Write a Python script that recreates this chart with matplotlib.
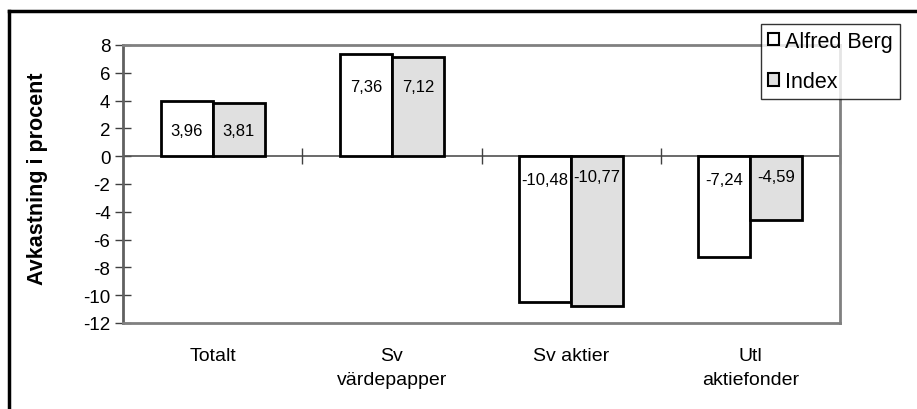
import matplotlib
matplotlib.use("Agg")
import matplotlib.pyplot as plt
from matplotlib.lines import Line2D
from matplotlib.patches import Patch
import numpy as np

plt.rcParams['font.family'] = ['Liberation Sans', 'DejaVu Sans']

categories = ["Totalt", "Sv\nvärdepapper", "Sv aktier", "Utl\naktiefonder"]
alfred_berg = [3.96, 7.36, -10.48, -7.24]
index_vals = [3.81, 7.12, -10.77, -4.59]
alfred_labels = ["3,96", "7,36", "-10,48", "-7,24"]
index_labels = ["3,81", "7,12", "-10,77", "-4,59"]
series_names = ["Alfred Berg", "Index"]
y_ticks = [8, 6, 4, 2, 0, -2, -4, -6, -8, -10, -12]

# label vertical placement (layout)
label_y_alfred = [1.85, 5.0, -1.65, -1.7]
label_y_index = [1.85, 5.0, -1.45, -1.45]

fig = plt.figure(figsize=(9.17, 4.10), dpi=100)
ax = fig.add_axes([123/917, 1-324/410, (840-123)/917, (324-46)/410])

x = np.arange(len(categories))
w = 0.29
ax.bar(x - w/2, alfred_berg, w, color="white", edgecolor="black", linewidth=2, zorder=3)
ax.bar(x + w/2, index_vals, w, color="#e0e0e0", edgecolor="black", linewidth=2, zorder=3)

for xi, ly, t in zip(x, label_y_alfred, alfred_labels):
    ax.text(xi - w/2, ly, t, ha="center", va="center", fontsize=12, zorder=4)
for xi, ly, t in zip(x, label_y_index, index_labels):
    ax.text(xi + w/2, ly, t, ha="center", va="center", fontsize=12, zorder=4)

ax.set_xlim(-0.5, len(categories) - 0.5)
ax.set_ylim(-12, 8)
ax.set_yticks(y_ticks)
ax.set_yticklabels([str(v) for v in y_ticks], fontsize=13.5)
ax.tick_params(axis="y", direction="inout", length=12, width=1, color="#404040", pad=3)
ax.set_xticks(x)
ax.set_xticklabels(categories, fontsize=14, linespacing=1.6)
ax.tick_params(axis="x", length=0, pad=17)

ax.axhline(0, color="#505050", linewidth=1.2, zorder=2)
bounds = np.arange(len(categories)) + 0.5
ax.plot(bounds, np.zeros_like(bounds), linestyle="none", marker="|", markersize=12,
        markeredgewidth=1, color="#404040", clip_on=False, zorder=2)

for s in ["top", "right", "bottom"]:
    ax.spines[s].set_color("#808080")
    ax.spines[s].set_linewidth(2)
ax.spines["left"].set_color("#606060")
ax.spines["left"].set_linewidth(2)

ax.set_ylabel("Avkastning i procent", fontsize=15.5, fontweight="bold")
ax.yaxis.set_label_coords((48-123)/717, (324-179)/278)

handles = [Patch(facecolor="white", edgecolor="black", linewidth=1.5),
           Patch(facecolor="#e0e0e0", edgecolor="black", linewidth=1.5)]
leg = fig.legend(handles, series_names, loc="upper left",
                 bbox_to_anchor=(761/917, 1-25/410), fontsize=15.5,
                 handlelength=0.5, handleheight=0.5, handletextpad=0.3,
                 labelspacing=0.9, borderpad=0.32, frameon=True, fancybox=False,
                 borderaxespad=0)
leg.get_frame().set_edgecolor("black")
leg.get_frame().set_linewidth(1)
leg.set_zorder(10)

# outer frame (top and left edges visible)
fig.add_artist(Line2D([9/917, 9/917], [0, 1-12/410], transform=fig.transFigure,
                      color="black", linewidth=2.5))
fig.add_artist(Line2D([9/917, 1], [1-12/410, 1-12/410], transform=fig.transFigure,
                      color="black", linewidth=2.5))

fig.savefig("out.png", dpi=100)
